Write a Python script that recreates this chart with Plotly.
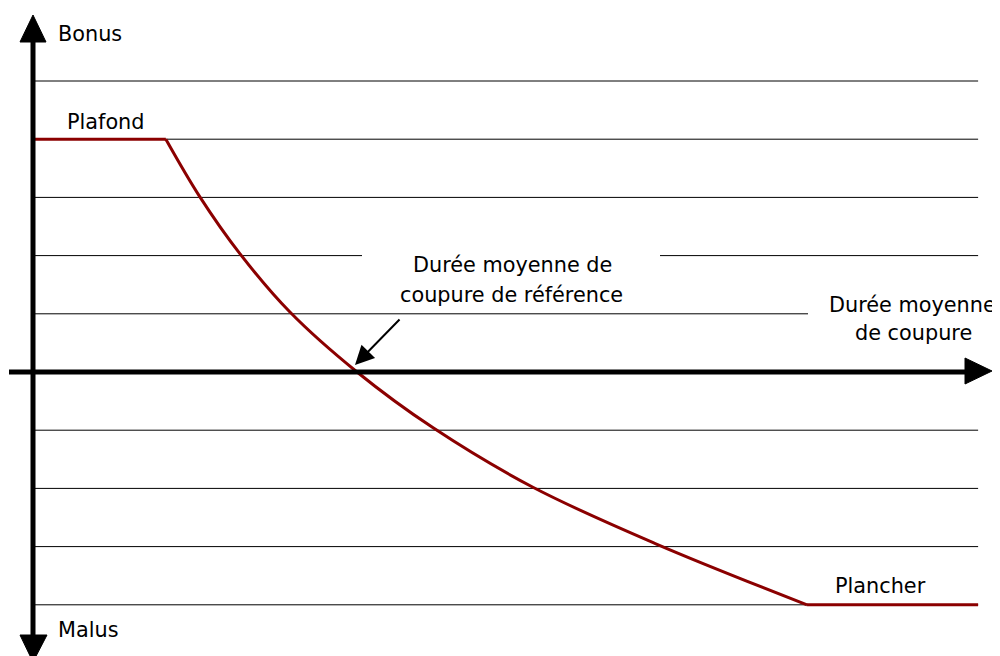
import plotly.graph_objects as go

# ---- data (chart units: x = duration, y = bonus/malus) ----
grid_levels = [5, 4, 3, 2, 1, -1, -2, -3, -4]
x_ref = 10.0           # durée moyenne de coupure de référence
x_end = 29.17          # right end of the drawn region
plafond = 4.0
plancher = -4.0
curve_x = [4.10, 5.15, 6.39, 7.93, 10.0, 12.35, 15.43, 19.26, 23.89]
curve_y = [4.00, 3.01, 2.03, 1.03, 0.0, -0.96, -1.98, -2.96, -4.00]

# ---- scale: page pixels -> chart units (page has 8px body margin) ----
OFF = 8
W, H = 1000 - OFF, 656 - OFF
X0PX, KX = 33.0, 32.4
Y0PX, KY = 372.0, 58.2
def px2x(p): return (p - X0PX) / KX
def py2y(p): return (Y0PX - p) / KY

FONT = "DejaVu Sans"
RED = "#8B0000"

fig = go.Figure()

fig.add_trace(go.Scatter(x=[0, curve_x[0]], y=[plafond, plafond], mode="lines",
                         line=dict(color=RED, width=3), hoverinfo="skip"))
fig.add_trace(go.Scatter(x=[curve_x[-1], x_end], y=[plancher, plancher], mode="lines",
                         line=dict(color=RED, width=3), hoverinfo="skip"))
fig.add_trace(go.Scatter(x=curve_x, y=curve_y, mode="lines",
                         line=dict(color=RED, width=3, shape="spline", smoothing=1.0),
                         hoverinfo="skip"))

shapes = []
for g in grid_levels:
    shapes.append(dict(type="line", xref="x", yref="y", x0=0, x1=x_end, y0=g, y1=g,
                       line=dict(color="black", width=1), layer="below"))
shapes.append(dict(type="rect", xref="x", yref="y", x0=px2x(362), x1=px2x(660),
                   y0=py2y(246), y1=py2y(306), fillcolor="white", line=dict(width=0),
                   layer="below"))
shapes.append(dict(type="rect", xref="x", yref="y", x0=px2x(808), x1=px2x(1000),
                   y0=py2y(290), y1=py2y(346), fillcolor="white", line=dict(width=0),
                   layer="below"))

shapes.append(dict(type="line", xref="x", yref="y", x0=px2x(9), x1=px2x(967), y0=0, y1=0,
                   line=dict(color="black", width=5)))
shapes.append(dict(type="line", xref="x", yref="y", x0=0, x1=0, y0=py2y(40), y1=py2y(637),
                   line=dict(color="black", width=5)))
def tri(pts):
    s = "M " + " L ".join(f"{px2x(a)},{py2y(b)}" for a, b in pts) + " Z"
    return dict(type="path", xref="x", yref="y", path=s, fillcolor="black",
                line=dict(color="black", width=1))
shapes.append(tri([(965, 358), (992, 371), (965, 384)]))
shapes.append(tri([(20, 42), (33, 15), (46, 42)]))
shapes.append(tri([(20, 635), (33, 662), (47, 635)]))

fnt = dict(family=FONT, size=20.8, color="black")
def label(text, xp, yp, anchor="left"):
    return dict(x=px2x(xp), y=py2y(yp), xref="x", yref="y", text=text, showarrow=False,
                xanchor=anchor, yanchor="middle", font=fnt)

annotations = [
    label("Bonus", 56, 34),
    label("Plafond", 65, 122),
    label("Durée moyenne de", 512, 265, "center"),
    label("coupure de référence", 511, 295, "center"),
    label("Durée moyenne", 912, 305, "center"),
    label("de coupure", 913, 333, "center"),
    label("Malus", 56, 630),
    label("Plancher", 833, 586),
    dict(x=px2x(355), y=py2y(365), ax=px2x(401), ay=py2y(318), xref="x", yref="y",
         axref="x", ayref="y", text="", showarrow=True, arrowhead=2, arrowsize=1.9,
         arrowwidth=2, arrowcolor="black"),
]

fig.update_layout(
    width=W, height=H, margin=dict(l=0, r=0, t=0, b=0),
    paper_bgcolor="white", plot_bgcolor="white", showlegend=False,
    xaxis=dict(range=[px2x(OFF), px2x(1000)], visible=False, fixedrange=True),
    yaxis=dict(range=[py2y(656), py2y(OFF)], visible=False, fixedrange=True),
    shapes=shapes, annotations=annotations,
)

fig.write_html("out.html")
